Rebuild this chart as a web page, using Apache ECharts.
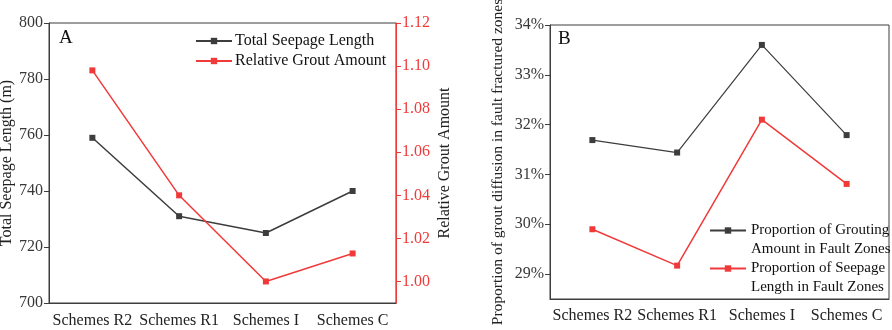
<!DOCTYPE html>
<html><head><meta charset="utf-8">
<script src="https://cdn.jsdelivr.net/npm/echarts@6/dist/echarts.min.js"></script>
<style>html,body{margin:0;padding:0;background:#fff}#c{width:892px;height:330px}</style>
</head><body><div id="c"></div>
<script>
var categories = ['Schemes R2', 'Schemes R1', 'Schemes I', 'Schemes C'];
var totalSeepageLength = [759, 731, 725, 740];
var relativeGroutAmount = [1.098, 1.040, 1.000, 1.013];
var propGroutingFault = [31.69, 31.44, 33.60, 31.79];
var propSeepageFault = [29.90, 29.17, 32.10, 30.81];
var leftTicksA = [700, 720, 740, 760, 780, 800];
var rightTicksA = [1.00, 1.02, 1.04, 1.06, 1.08, 1.10, 1.12];
var ticksB = [29, 30, 31, 32, 33, 34];

var FONT = 'Liberation Serif';
var DARK = '#3d3d3d';
var RED = '#f03a3a';
var txt = {fontFamily: FONT, fontSize: 16, color: '#222'};

var chart = echarts.init(document.getElementById('c'));
chart.setOption({
  animation: false,
  backgroundColor: '#fff',
  title: [
    {text: 'A', left: 59, top: 29, padding: 0, textStyle: {fontFamily: FONT, fontSize: 19, fontWeight: 'normal', color: '#111'}},
    {text: 'B', left: 558, top: 30, padding: 0, textStyle: {fontFamily: FONT, fontSize: 19, fontWeight: 'normal', color: '#111'}}
  ],
  grid: [
    {left: 49, right: 496, top: 23, bottom: 27, show: true, borderColor: DARK, borderWidth: 1, outerBoundsMode: 'none', containLabel: false},
    {left: 550, right: 3, top: 25, bottom: 31, show: true, borderColor: DARK, borderWidth: 1, outerBoundsMode: 'none', containLabel: false}
  ],
  legend: [
    {orient: 'vertical', left: 195, top: 33, padding: 0, itemWidth: 36, itemHeight: 8, itemGap: 4,
     textStyle: Object.assign({}, txt, {lineHeight: 16, color: '#111', padding: [0, 0, 0, -2]}),
     data: ['Total Seepage Length', 'Relative Grout Amount']},
    {orient: 'vertical', left: 709, top: 202, padding: 0, itemWidth: 36, itemHeight: 8,
     textStyle: Object.assign({}, txt, {fontSize: 15, lineHeight: 19, color: '#111'}),
     formatter: function (n) { return '\nProportion of Grouting\nAmount in Fault Zones'; },
     data: ['Proportion of Grouting Amount in Fault Zones']},
    {orient: 'vertical', left: 709, top: 240, padding: 0, itemWidth: 36, itemHeight: 8,
     textStyle: Object.assign({}, txt, {fontSize: 15, lineHeight: 19, color: '#111'}),
     formatter: function (n) { return '\nProportion of Seepage\nLength in Fault Zones'; },
     data: ['Proportion of Seepage Length in Fault Zones']}
  ],
  xAxis: [
    {type: 'category', gridIndex: 0, data: categories, boundaryGap: true,
     axisLine: {lineStyle: {color: DARK, width: 1}},
     axisTick: {alignWithLabel: true, length: 5, lineStyle: {color: DARK}},
     axisLabel: Object.assign({}, txt, {margin: 10, interval: 0})},
    {type: 'category', gridIndex: 1, data: categories, boundaryGap: true,
     axisLine: {lineStyle: {color: DARK, width: 1}},
     axisTick: {alignWithLabel: true, length: 5, lineStyle: {color: DARK}},
     axisLabel: Object.assign({}, txt, {margin: 9, interval: 0})}
  ],
  yAxis: [
    {type: 'value', gridIndex: 0, min: 700, max: 800, interval: 20, position: 'left',
     name: 'Total Seepage Length (m)', nameLocation: 'middle', nameGap: 34,
     nameTextStyle: Object.assign({}, txt),
     axisLine: {show: true, lineStyle: {color: DARK}},
     axisTick: {show: true, length: 5, lineStyle: {color: DARK}},
     axisLabel: Object.assign({}, txt, {color: '#383838', margin: 6}),
     splitLine: {show: false}},
    {type: 'value', gridIndex: 0, min: 0.99, max: 1.12, position: 'right',
     name: 'Relative Grout Amount', nameLocation: 'middle', nameGap: 41, nameRotate: 90,
     nameTextStyle: Object.assign({}, txt),
     axisLine: {show: true, lineStyle: {color: RED}},
     axisTick: {show: true, length: 5, lineStyle: {color: RED}, customValues: rightTicksA},
     axisLabel: Object.assign({}, txt, {color: RED, margin: 6, customValues: rightTicksA,
       formatter: function (v) { return v.toFixed(2); }}),
     splitLine: {show: false}},
    {type: 'value', gridIndex: 1, min: 28.5, max: 34, position: 'left',
     name: 'Proportion of grout diffusion in fault fractured zones', nameLocation: 'middle', nameGap: 44,
     nameTextStyle: Object.assign({}, txt, {fontSize: 15.5}),
     axisLine: {show: true, lineStyle: {color: DARK}},
     axisTick: {show: true, length: 5, lineStyle: {color: DARK}, customValues: ticksB},
     axisLabel: Object.assign({}, txt, {color: '#383838', margin: 6, customValues: ticksB,
       formatter: function (v) { return v + '%'; }}),
     splitLine: {show: false}}
  ],
  series: [
    {name: 'Total Seepage Length', type: 'line', xAxisIndex: 0, yAxisIndex: 0, data: totalSeepageLength,
     symbol: 'rect', symbolSize: 6, itemStyle: {color: DARK}, lineStyle: {color: DARK, width: 1.5}},
    {name: 'Relative Grout Amount', type: 'line', xAxisIndex: 0, yAxisIndex: 1, data: relativeGroutAmount,
     symbol: 'rect', symbolSize: 6, itemStyle: {color: RED}, lineStyle: {color: RED, width: 1.5}},
    {name: 'Proportion of Grouting Amount in Fault Zones', type: 'line', xAxisIndex: 1, yAxisIndex: 2, data: propGroutingFault,
     symbol: 'rect', symbolSize: 6, itemStyle: {color: DARK}, lineStyle: {color: DARK, width: 1.2}},
    {name: 'Proportion of Seepage Length in Fault Zones', type: 'line', xAxisIndex: 1, yAxisIndex: 2, data: propSeepageFault,
     symbol: 'rect', symbolSize: 6, itemStyle: {color: RED}, lineStyle: {color: RED, width: 1.5}}
  ]
});
</script></body></html>
